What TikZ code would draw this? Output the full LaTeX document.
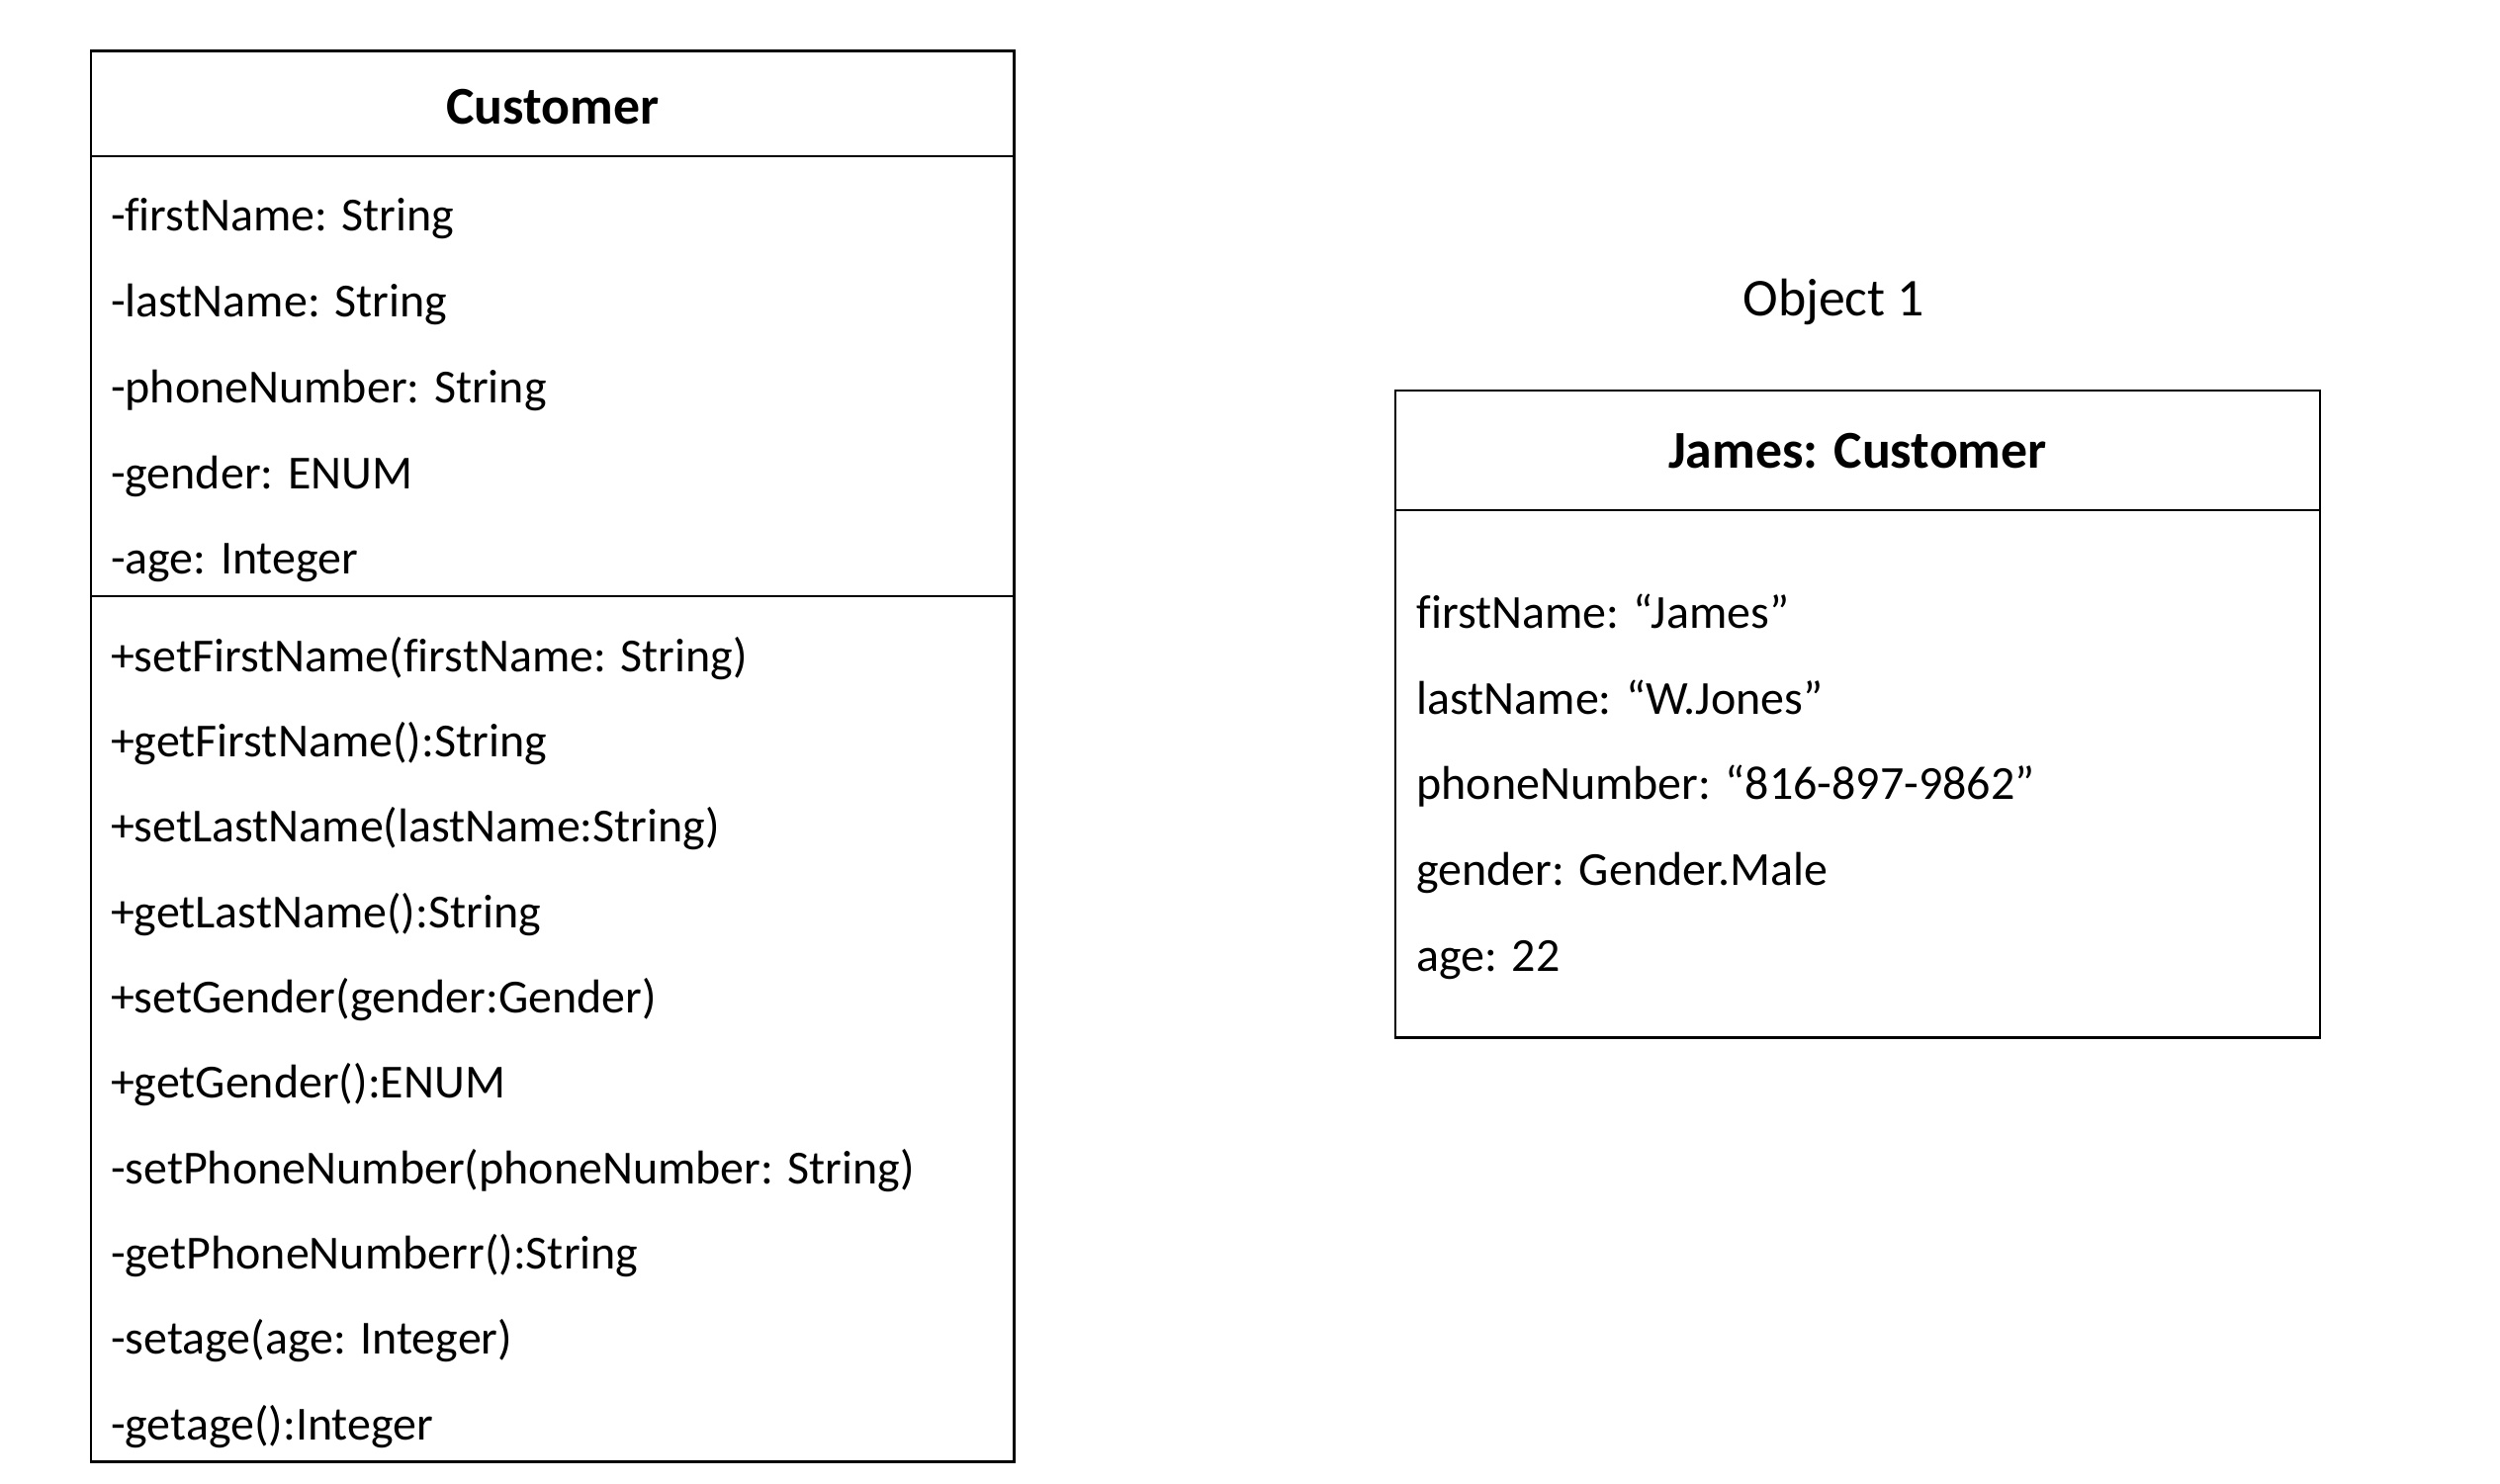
\documentclass[tikz,border=0pt]{standalone}
\usepackage{fontspec}
\setmainfont{Carlito}[Ligatures=NoCommon]
\usetikzlibrary{positioning}

\begin{document}
\begin{tikzpicture}[
  member/.style={anchor=base west, inner sep=0pt, font=\fontsize{13.65}{16}\selectfont},
  heading/.style={anchor=base, inner sep=0pt, font=\fontsize{15.3}{18}\selectfont\bfseries},
  umlbox/.style={line width=0.7pt}
]
  \useasboundingbox (0, 0) rectangle (25.28, 15);

  % Class: Customer
  \draw[umlbox] (0.919, 0.214) rectangle (10.255, 14.484);
  \draw[umlbox] (0.919, 13.420) -- (10.255, 13.420);
  \draw[umlbox] (0.919, 8.970) -- (10.255, 8.970);
  \node[heading] (cust) at (5.587, 13.741) {Customer};

  \foreach \txt [count=\i from 0] in {-firstName: String, -lastName: String,
      -phoneNumber: String, -gender: ENUM, -age: Integer}
    \node[member] (attr\i) at (1.113, 12.660 - 0.8667*\i) {\txt};

  \foreach \txt [count=\i from 0] in {+setFirstName(firstName: String),
      +getFirstName():String, +setLastName(lastName:String),
      +getLastName():String, +setGender(gender:Gender), +getGender():ENUM,
      -setPhoneNumber(phoneNumber: String), -getPhoneNumberr():String,
      -setage(age: Integer), -getage():Integer}
    \node[member] (meth\i) at (1.113, 8.210 - 0.8636*\i) {\txt};

  % Object: James
  \node[anchor=base, inner sep=0pt, font=\fontsize{15.3}{18}\selectfont] (objlabel) at (18.543, 11.803) {Object 1};
  \draw[umlbox] (14.109, 4.503) rectangle (23.460, 11.050);
  \draw[umlbox] (14.109, 9.840) -- (23.460, 9.840);
  \node[heading] (james) at (18.784, 10.268) {James: Customer};

  \foreach \txt [count=\i from 0] in {firstName: “James”, lastName: “W.Jones”,
      phoneNumber: “816-897-9862”, gender: Gender.Male, age: 22}
    \node[member] (val\i) at (14.318, 8.646 - 0.8667*\i) {\txt};
\end{tikzpicture}
\end{document}
